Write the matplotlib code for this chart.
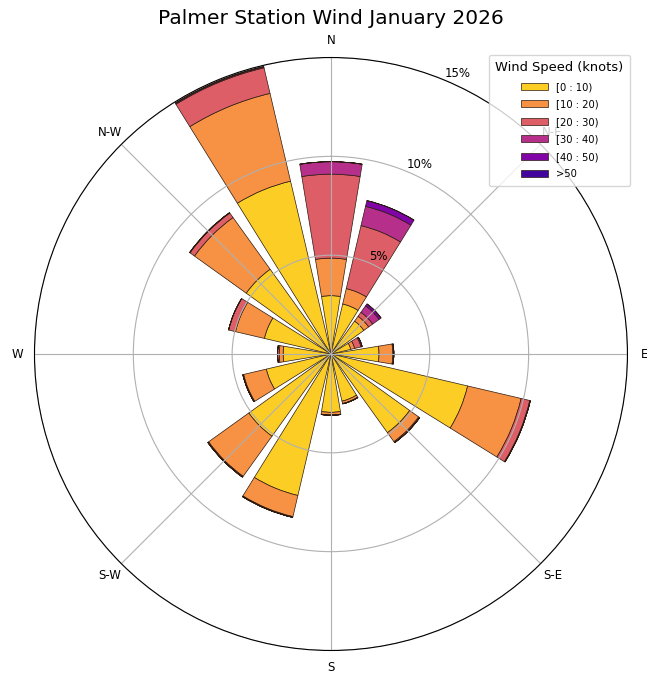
import numpy as np
import matplotlib.pyplot as plt

# wind rose: frequency (%) per direction sector, stacked by speed class
directions = ["N", "NNE", "NE", "ENE", "E", "ESE", "SE", "SSE",
              "S", "SSW", "SW", "WSW", "W", "WNW", "NW", "NNW"]
speed_labels = ["[0 : 10)", "[10 : 20)", "[20 : 30)", "[30 : 40)", "[40 : 50)", ">50"]

freq_0_10 = [2.95, 2.60, 2.05, 1.03, 2.43, 7.10, 4.90, 2.45,
             2.95, 7.35, 5.12, 3.36, 2.42, 3.46, 5.28, 8.98]
freq_10_20 = [1.90, 0.80, 0.30, 0.20, 0.70, 2.78, 0.56, 0.12,
              0.13, 1.10, 2.50, 1.18, 0.20, 1.50, 3.22, 4.56]
freq_20_30 = [4.25, 3.27, 0.25, 0.33, 0.05, 0.45, 0.06, 0.02,
              0.02, 0.04, 0.05, 0.04, 0.08, 0.36, 0.28, 1.33]
freq_30_40 = [0.63, 1.00, 0.40, 0.06, 0.00, 0.03, 0.00, 0.00,
              0.00, 0.00, 0.00, 0.00, 0.00, 0.00, 0.02, 0.05]
freq_40_50 = [0.00, 0.30, 0.12, 0.00, 0.00, 0.00, 0.00, 0.00,
              0.00, 0.00, 0.00, 0.00, 0.00, 0.00, 0.00, 0.02]
freq_50_up = [0.00] * 16

table = [freq_0_10, freq_10_20, freq_20_30, freq_30_40, freq_40_50, freq_50_up]

fig = plt.figure(figsize=(6.47, 6.77), dpi=100)
ax = fig.add_axes([0.0533, 0.0391, 0.9165, 0.876], projection="polar")
ax.set_theta_zero_location("N")
ax.set_theta_direction(-1)

theta = np.deg2rad(np.arange(len(directions)) * 22.5)
width = np.deg2rad(22.5) * 0.83
colors = plt.get_cmap("plasma_r")(np.linspace(0.1, 0.9, 6))

# zero-height classes are drawn too, their edges stack on the bar tips
bottom = np.zeros(len(directions))
for vals, color, label in zip(table, colors, speed_labels):
    vals = np.array(vals)
    ax.bar(theta, vals, width=width, bottom=bottom, color=color,
           edgecolor="#2a1a10", linewidth=0.5, label=label)
    bottom += vals

ax.set_thetagrids(np.arange(0, 360, 45),
                  ["N", "N-E", "E", "S-E", "S", "S-W", "W", "N-W"])
ax.tick_params(axis="x", pad=1.5, labelsize=8.5)
ax.set_ylim(0, 15)
ax.set_rgrids([5, 10, 15], labels=["5%", "10%", "15%"], angle=22.5)
ax.tick_params(axis="y", labelsize=8.5)

ax.legend(title="Wind Speed (knots)", loc="upper right",
          bbox_to_anchor=(0.974, 0.919), bbox_transform=fig.transFigure,
          borderaxespad=0, fontsize=7.2, title_fontsize=9.4,
          handlelength=2.7, labelspacing=0.75, borderpad=0.65)

fig.text(0.511, 0.973, "Palmer Station Wind January 2026",
         ha="center", va="center", fontsize=14.5)

fig.savefig("out.png", dpi=100)
